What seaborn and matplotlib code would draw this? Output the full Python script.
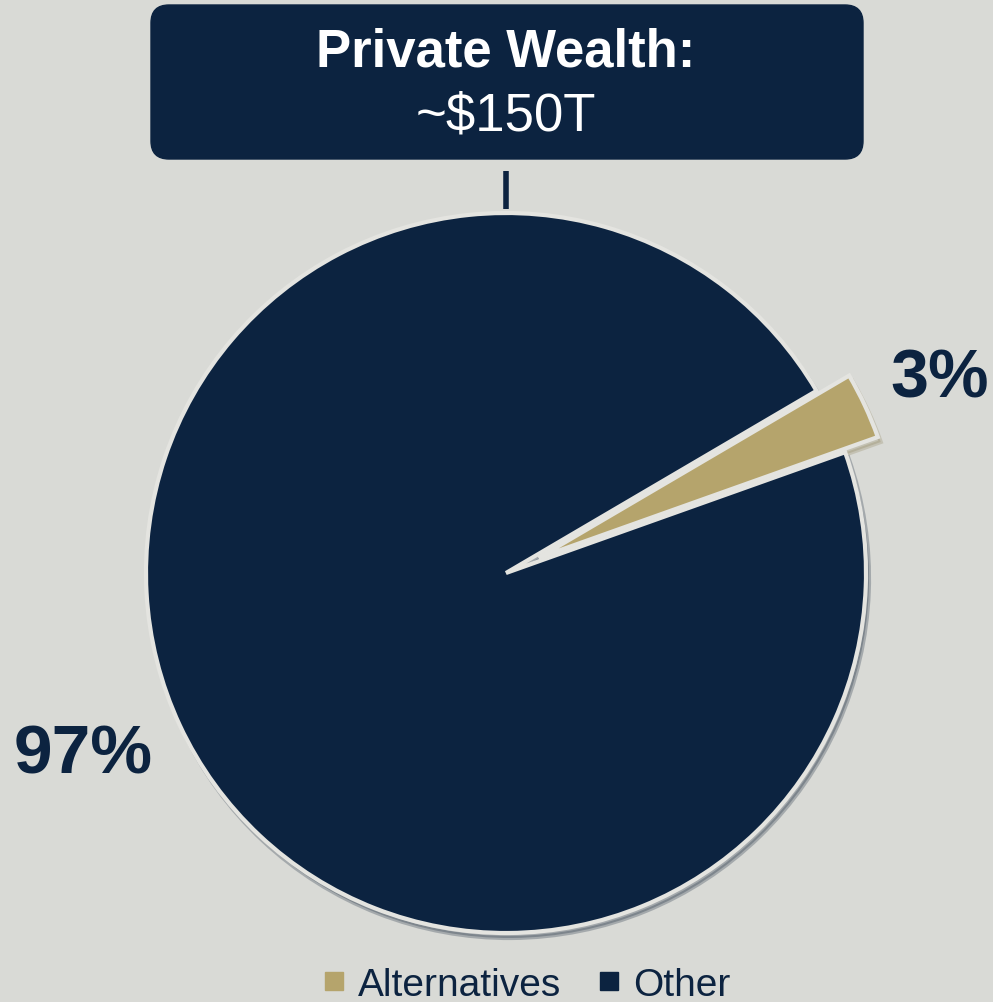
import matplotlib
matplotlib.use("Agg")
import matplotlib.pyplot as plt
import seaborn as sns
from matplotlib.patches import FancyBboxPatch
from matplotlib.lines import Line2D

categories = ["Alternatives", "Other"]
shares = [3, 97]
share_labels = ["3%", "97%"]
title_main = "Private Wealth:"
title_sub = "~$150T"

BG = "#d9dad6"
NAVY = "#0c2340"
GOLD = "#b5a46c"

sns.set_theme(style="white")
plt.rcParams["font.family"] = ["Liberation Sans", "DejaVu Sans"]

fig = plt.figure(figsize=(9.93, 10.03), dpi=100, facecolor=BG)
ax = fig.add_axes([0, 0, 1, 1])
ax.set_facecolor(BG)

R = 360.0
cx, cy = 506.0, 1003 - 574.0

colors = [GOLD, NAVY]
wedges, _ = ax.pie(shares, colors=colors, startangle=19.6, counterclock=True,
                   explode=[0.1, 0.0], radius=1.0, center=(0, 0),
                   wedgeprops=dict(edgecolor="#e4e4e0", linewidth=3),
                   shadow=dict(ox=0.006, oy=-0.01, shade=0.25, alpha=0.25))
ax.set_aspect("equal")
ax.set_xlim(-cx / R, (993 - cx) / R)
ax.set_ylim(-cy / R, (1003 - cy) / R)
ax.axis("off")

# percentage labels
ax.text((940 - cx) / R, (1003 - 380 - cy) / R, share_labels[0], ha="center", va="center",
        fontsize=49, fontweight="bold", color=NAVY)
ax.text((83 - cx) / R, (1003 - 756 - cy) / R, share_labels[1], ha="center", va="center",
        fontsize=50, fontweight="bold", color=NAVY)

# title box
x0, x1 = (151 - cx) / R, (863 - cx) / R
y0, y1 = (1003 - 160 - cy) / R, (1003 - 6 - cy) / R
pad = 0.05
box = FancyBboxPatch((x0 + pad, y0 + pad), (x1 - x0) - 2 * pad, (y1 - y0) - 2 * pad,
                     boxstyle=f"round,pad={pad}", facecolor=NAVY, edgecolor=NAVY, linewidth=1)
ax.add_patch(box)
ax.text(0.0, (1003 - 52 - cy) / R, title_main, ha="center", va="center", color="white",
        fontsize=38, fontweight="bold")
ax.text(0.0, (1003 - 116 - cy) / R, title_sub, ha="center", va="center", color="white",
        fontsize=38)

# connector
ax.plot([0.0, 0.0], [(1003 - 172 - cy) / R, (1003 - 210 - cy) / R], color=NAVY, lw=4,
        solid_capstyle="butt")

handles = [Line2D([0], [0], marker="s", color="none", markerfacecolor=c, markeredgecolor=c,
                  markersize=13) for c in colors]
leg = fig.legend(handles, categories, loc="lower center", ncol=2, frameon=False,
                 fontsize=28, bbox_to_anchor=(0.527, -0.036), handletextpad=0.15,
                 columnspacing=0.8, handlelength=0.9)
for t in leg.get_texts():
    t.set_color(NAVY)

fig.savefig("out.png", dpi=100, facecolor=BG)
